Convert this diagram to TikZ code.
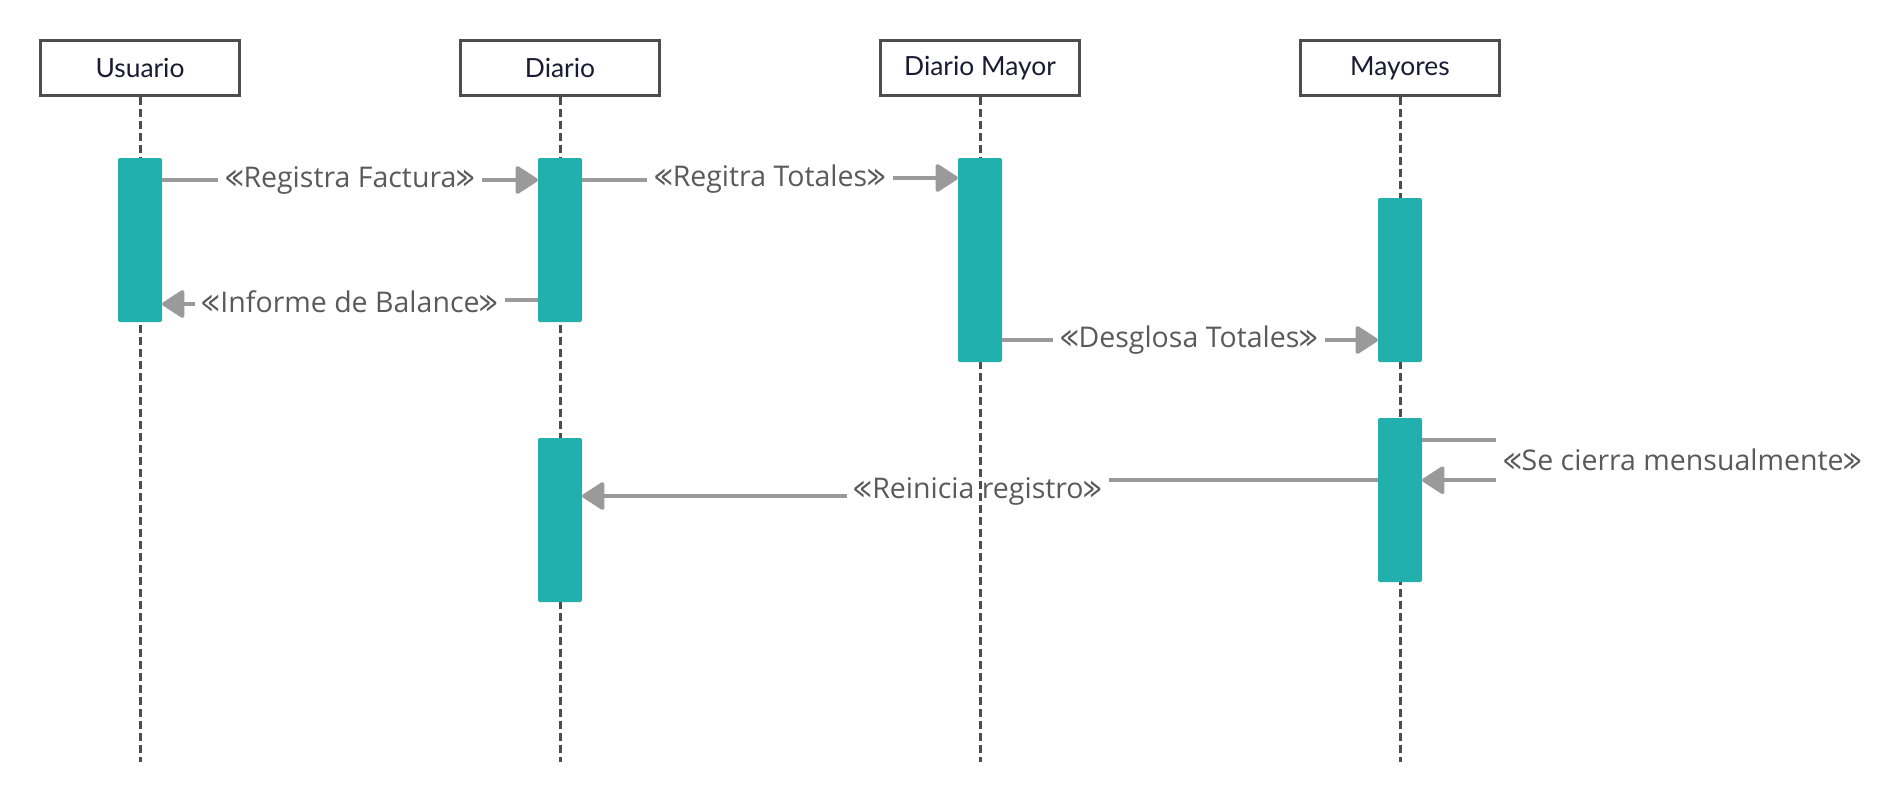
\documentclass[tikz,border=0pt]{standalone}
\usepackage{graphicx}
\usepackage{fontspec}
\setmainfont{Open Sans}
\newfontfamily\latofont{Lato}
\newfontfamily\djvsym{DejaVu Sans}
\usetikzlibrary{arrows.meta,calc}
\definecolor{teal1}{HTML}{22B0AE}
\definecolor{boxline}{HTML}{4D4D4D}
\definecolor{msgc}{HTML}{9A9A9A}
\definecolor{titlec}{HTML}{1A1A33}
\definecolor{labc}{HTML}{5A5A5A}
\newcommand\gopen{{\djvsym\scalebox{0.62}[1]{≪}}}
\newcommand\gclose{{\djvsym\scalebox{0.62}[1]{≫}}}
\begin{document}
\begin{tikzpicture}[x=1pt,y=-1pt,
 head/.style={draw=boxline, line width=3pt, fill=white, minimum width=199pt, minimum height=55pt, inner sep=0pt, font=\latofont\fontsize{26.4}{30}\selectfont, text=titlec},
 lifeline/.style={draw=boxline, line width=3pt, dash pattern=on 8pt off 4pt},
 act/.style={fill=teal1, rounded corners=2pt, minimum width=44pt, inner sep=0pt},
 msgline/.style={draw=msgc, line width=4pt},
 msgarrow/.style={msgline, -{Triangle[length=24pt,width=30pt,round]}},
 lab/.style={font=\fontsize{28.5}{32}\selectfont, text=labc, inner ysep=4pt, inner xsep=7pt}
]
\useasboundingbox (0,0) rectangle (1894,800);

% heads
\node[head] (h1) at (140,68) {Usuario};
\node[head] (h2) at (560,68) {Diario};
\node[head] (h3) at (980,68) {Diario Mayor};
\node[head] (h4) at (1400,68) {Mayores};

% lifeline ends
\coordinate (e1) at (140,762);
\coordinate (e2) at (560,762);
\coordinate (e3) at (980,762);
\coordinate (e4) at (1400,762);
\draw[lifeline] (h1.south) -- (e1);
\draw[lifeline] (h2.south) -- (e2);
\draw[lifeline] (h3.south) -- (e3);
\draw[lifeline] (h4.south) -- (e4);

% activations
\node[act, minimum height=164pt] (a1) at (140,240) {};
\node[act, minimum height=164pt] (a2) at (560,240) {};
\node[act, minimum height=204pt] (a3) at (980,260) {};
\node[act, minimum height=164pt] (a4) at (1400,280) {};
\node[act, minimum height=164pt] (a5) at (1400,500) {};
\node[act, minimum height=164pt] (a6) at (560,520) {};

% labels
\node[lab] (l1) at (350,180) {\gopen Registra Factura\gclose};
\node[lab] (l2) at (350,302) {\gopen Informe de Balance\gclose};
\node[lab] (l3) at (770,179) {\gopen Regitra Totales\gclose};
\node[lab] (l4) at (1189,340) {\gopen Desglosa Totales\gclose};
\node[lab, minimum height=40pt, inner ysep=0pt, anchor=west] (l5) at (1496,460) {\gopen Se cierra mensualmente\gclose};
\node[lab] (l6) at (978,491) {\gopen Reinicia registro\gclose};

% messages
\draw[msgline] (a1.east |- l1) -- (l1.west);
\draw[msgarrow] (l1.east) -- (a2.west |- l1);

\draw[msgline] ($(a2.west |- l2)+(0,-2)$) -- ($(l2.east)+(0,-2)$);
\draw[msgarrow] ($(l2.west)+(0,2)$) -- ($(a1.east |- l2)+(0,2)$);

\draw[msgline] ($(a2.east |- l3)+(0,1)$) -- ($(l3.west)+(0,1)$);
\draw[msgarrow] ($(l3.east)+(0,-1)$) -- ($(a3.west |- l3)+(0,-1)$);

\draw[msgline] (a3.east |- l4) -- (l4.west);
\draw[msgarrow] (l4.east) -- (a4.west |- l4);

\draw[msgline] (a5.east |- l5.north west) -- (l5.north west);
\draw[msgarrow] (l5.south west) -- (a5.east |- l5.south west);

\draw[msgline] ($(a5.west |- l6)+(0,-11)$) -- ($(l6.east)+(0,-11)$);
\draw[msgarrow] ($(l6.west)+(0,5)$) -- ($(a6.east |- l6)+(0,5)$);
\end{tikzpicture}
\end{document}
